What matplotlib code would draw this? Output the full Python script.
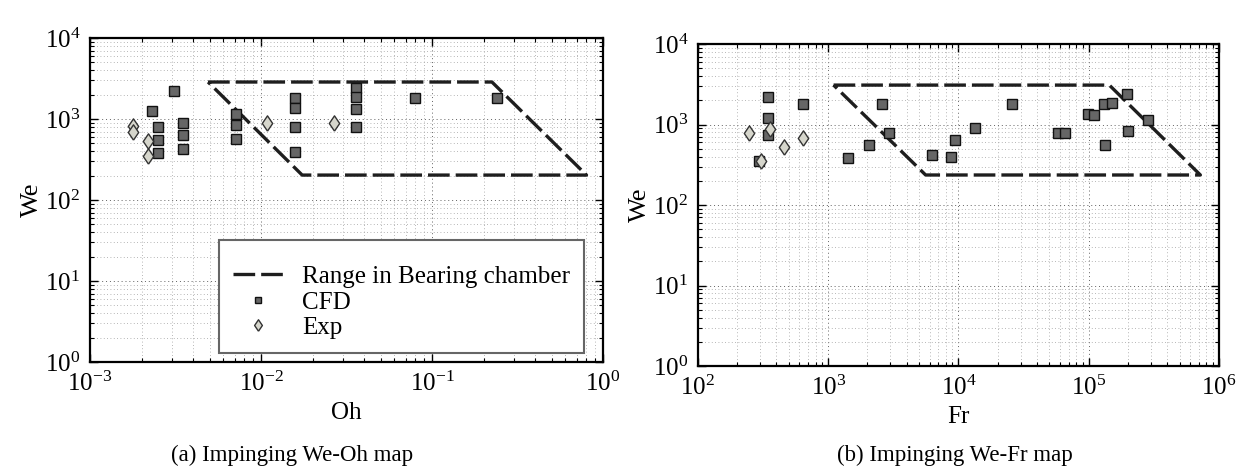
import matplotlib
matplotlib.use("Agg")
import matplotlib.pyplot as plt
from matplotlib.ticker import NullFormatter

plt.rcParams['font.family'] = ['Liberation Serif', 'DejaVu Serif']
plt.rcParams['mathtext.fontset'] = 'stix'
plt.rcParams['font.size'] = 17

# --- (a) We-Oh map ---
oh_range = [0.0049, 0.224, 0.80, 0.0174, 0.0049]
we_range_a = [2860, 2860, 203, 203, 2860]

oh_cfd = [0.00308, 0.00229, 0.00250, 0.00250, 0.00250, 0.00348, 0.00348, 0.00348,
          0.0071, 0.0071, 0.0071, 0.0159, 0.0159, 0.0159, 0.0159,
          0.0357, 0.0357, 0.0357, 0.0357, 0.0795, 0.240]
we_cfd_a = [2220, 1243, 789, 556, 384, 901, 634, 426,
            1142, 836, 566, 1800, 1367, 796, 387,
            2416, 1850, 1328, 796, 1815, 1815]

oh_exp = [0.00179, 0.00179, 0.00219, 0.00219, 0.0109, 0.0268]
we_exp_a = [811, 684, 530, 349, 884, 884]

# --- (b) We-Fr map ---
fr_range = [1100, 1.44e5, 7.2e5, 5600, 1100]
we_range_b = [3090, 3090, 236, 236, 3090]

fr_cfd = [347, 347, 347, 296, 646, 1419, 2042, 2606, 2944, 6310, 8710, 9440,
          13430, 25800, 58100, 65600, 98100, 109500, 131400, 152000,
          195500, 198800, 133000, 283000]
we_cfd_b = [2223, 1221, 751, 351, 1803, 379, 555, 1803, 788, 421, 390, 634,
            909, 1803, 788, 788, 1343, 1318, 1787, 1857,
            2400, 834, 560, 1132]

fr_exp = [247, 359, 456, 646, 303]
we_exp_b = [788, 884, 524, 677, 351]

fig = plt.figure(figsize=(12.47, 4.70), dpi=100)
ax1 = fig.add_axes([0.0722, 0.2298, 0.4114, 0.6894])
ax2 = fig.add_axes([0.5597, 0.2213, 0.4178, 0.6850])

# wide diamond like the original marker
diamond = [(0, -1), (0.68, 0), (0, 1), (-0.68, 0), (0, -1)]

line_kw = dict(color='#1e1e1e', lw=2.4, dashes=(6.5, 1.8))
cfd_kw = dict(ls='none', marker='s', ms=6.5, mfc='#666666', mec='#111111', mew=1.0)
exp_kw = dict(ls='none', marker=diamond, ms=11, mfc='#d6d6cc', mec='#333333', mew=1.0)


def style(ax, xlim, ylim, xlabel):
    ax.set_xscale('log')
    ax.set_yscale('log')
    ax.set_xlim(*xlim)
    ax.set_ylim(*ylim)
    ax.grid(True, which='major', color='0.38', lw=0.7, dashes=(1, 3))
    ax.grid(True, which='minor', color='0.62', lw=0.6, dashes=(1, 3))
    ax.tick_params(which='both', direction='in', top=True, right=True)
    ax.tick_params(which='major', length=6, width=1.0, pad=7, labelsize=18)
    ax.tick_params(which='minor', length=3, width=0.8)
    ax.xaxis.set_minor_formatter(NullFormatter())
    ax.yaxis.set_minor_formatter(NullFormatter())
    for s in ax.spines.values():
        s.set_linewidth(1.6)
    ax.set_xlabel(xlabel, labelpad=4, fontsize=18)
    ax.set_ylabel('We', labelpad=1, fontsize=19)
    ax.set_axisbelow(True)


ax1.plot(oh_range, we_range_a, label='Range in Bearing chamber', **line_kw)
ax1.plot(oh_cfd, we_cfd_a, label='CFD', **cfd_kw)
ax1.plot(oh_exp, we_exp_a, label='Exp', **exp_kw)
style(ax1, (1e-3, 1e0), (1e0, 1e4), 'Oh')

# blank title pushes the rows down a little, as in the original box
leg = ax1.legend(loc='lower right', bbox_to_anchor=(0.962, 0.028),
                 fontsize=18, fancybox=False, framealpha=1, edgecolor='0.4',
                 borderpad=0.55, labelspacing=0.12, handlelength=2.0,
                 handletextpad=0.75, borderaxespad=0, markerscale=0.75,
                 title=' ', title_fontsize=7)
leg.get_frame().set_linewidth(1.5)

ax2.plot(fr_range, we_range_b, **line_kw)
ax2.plot(fr_cfd, we_cfd_b, **cfd_kw)
ax2.plot(fr_exp, we_exp_b, **exp_kw)
style(ax2, (1e2, 1e6), (1e0, 1e4), 'Fr')

fig.text(292 / 1247, 1 - 455 / 470, '(a) Impinging We-Oh map', ha='center', va='center', fontsize=16.5)
fig.text(955 / 1247, 1 - 455 / 470, '(b) Impinging We-Fr map', ha='center', va='center', fontsize=16.5)

fig.savefig('out.png', dpi=100)
